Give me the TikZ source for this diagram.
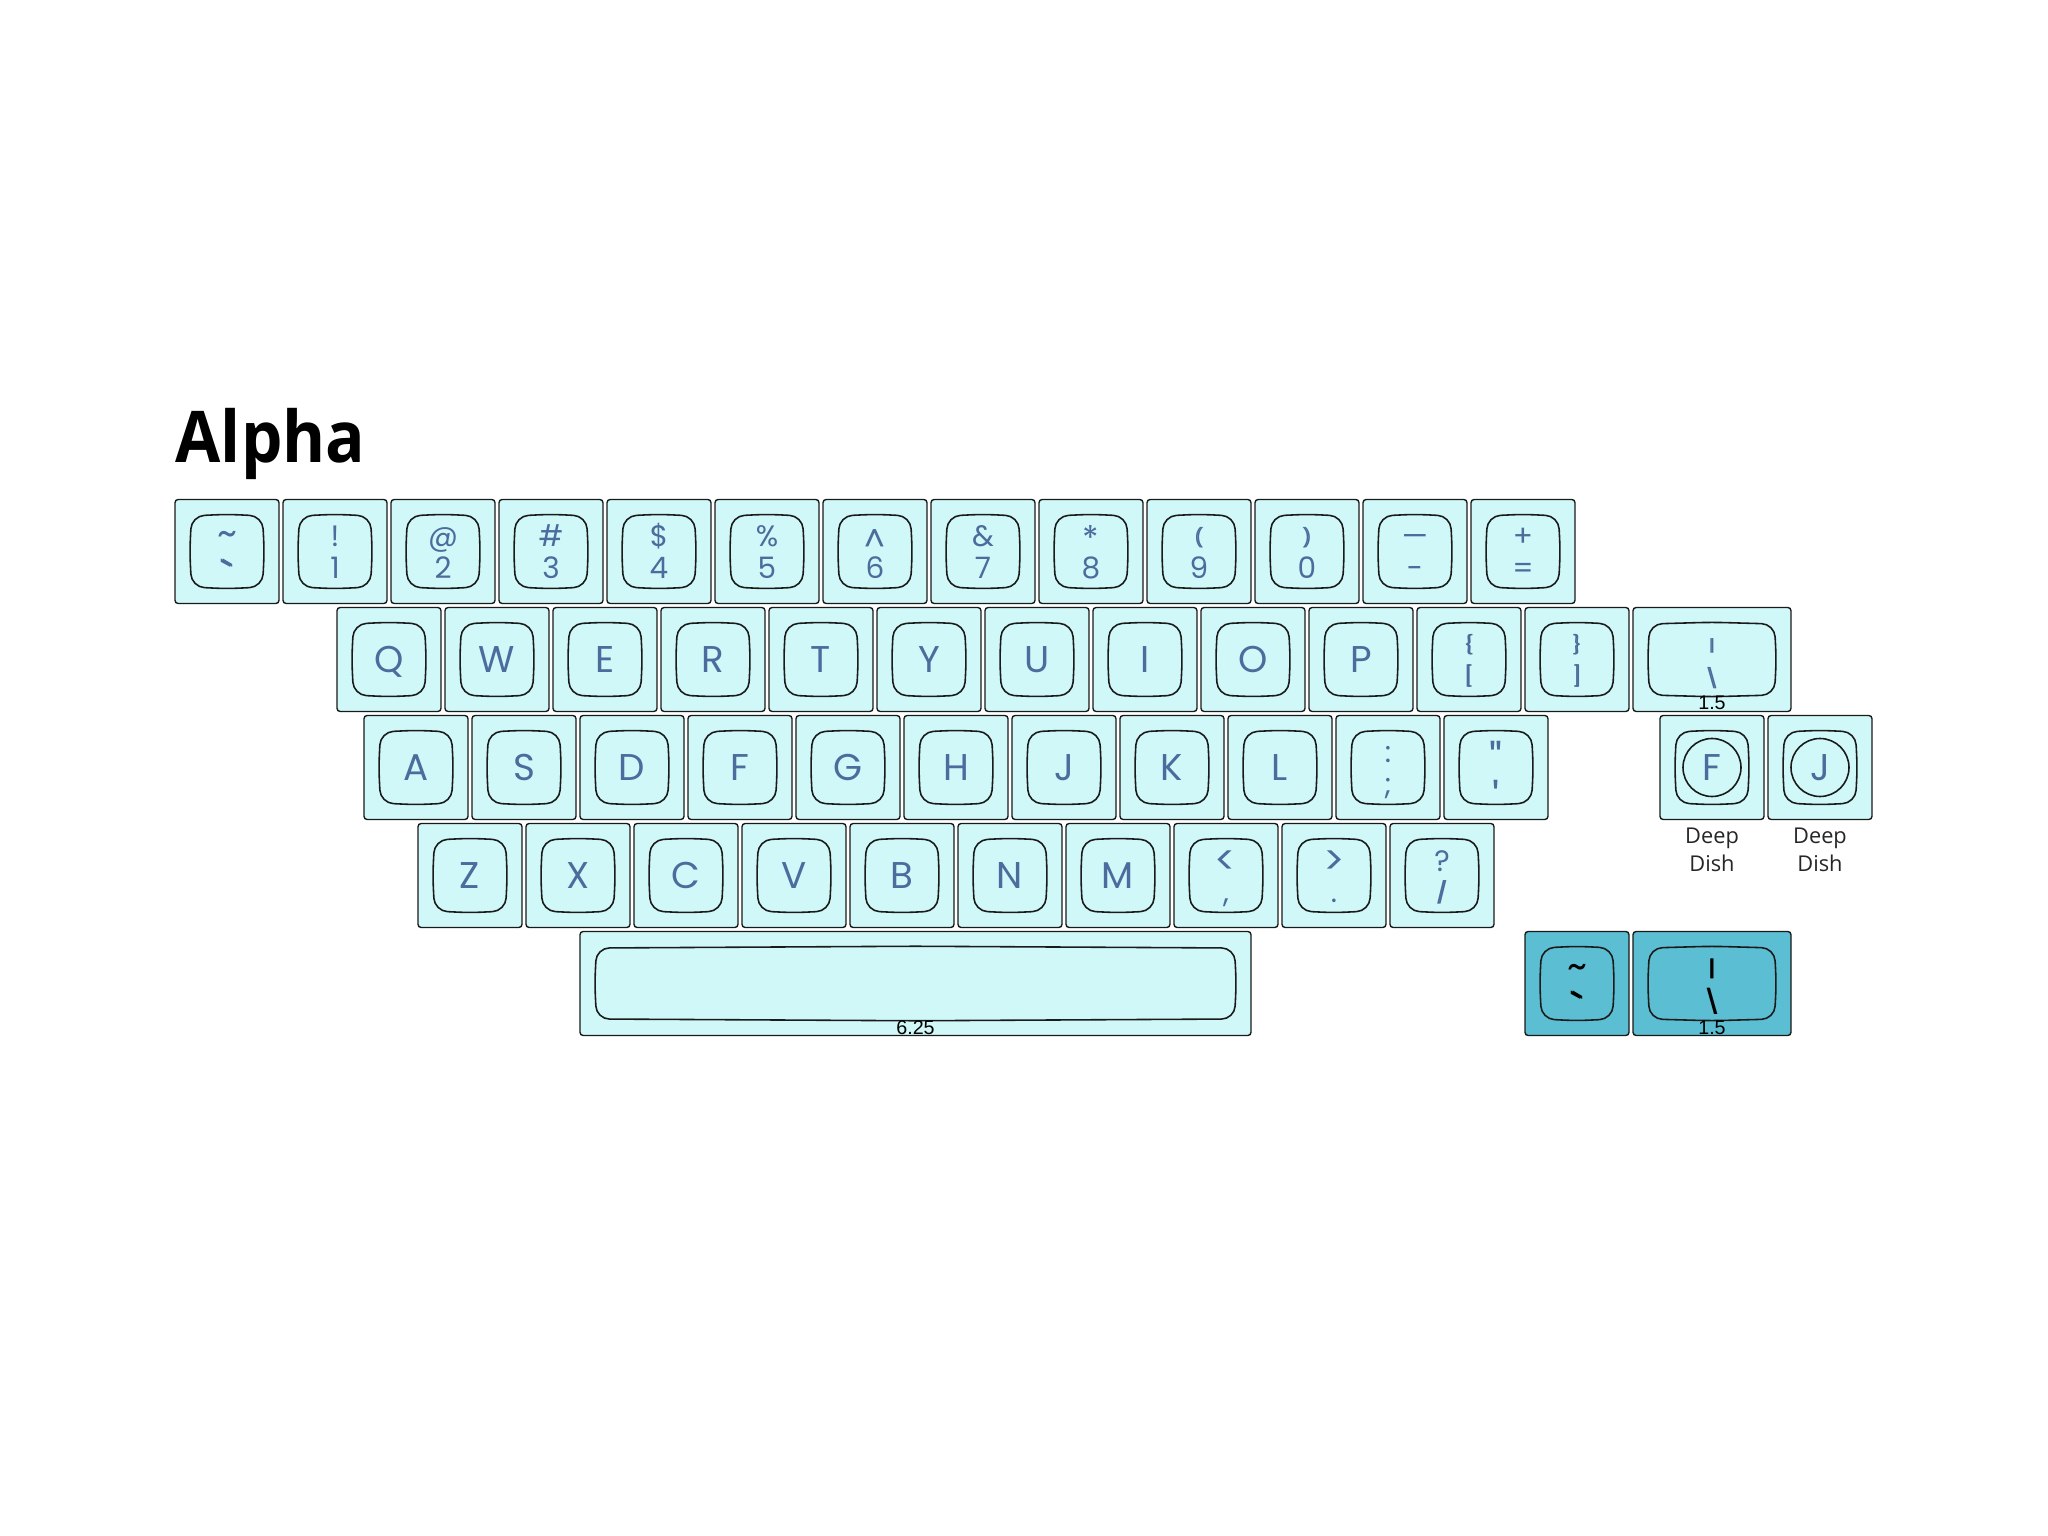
\documentclass[tikz,border=0pt]{standalone}
\usepackage{fontspec}
\setmainfont{Open Sans}
\newfontfamily\legfont{Poppins}
\newfontfamily\labfont{Liberation Sans}
\usetikzlibrary{calc}
\definecolor{keyfill}{RGB}{208,248,248}
\definecolor{darkfill}{RGB}{91,190,211}
\definecolor{legblue}{RGB}{75,108,156}
\definecolor{edge}{RGB}{26,26,26}
\tikzset{
 outerkey/.style={draw=edge, line width=0.4pt, rounded corners=0.9pt, inner sep=0pt, outer sep=0pt},
 lt/.style={fill=keyfill},
 dk/.style={fill=darkfill},
 dish/.style={draw=edge, line width=0.45pt},
 leg/.style={inner sep=0pt, text=legblue, font=\legfont\fontsize{10.6}{12}\selectfont},
 legs/.style={inner sep=0pt, text=legblue, font=\legfont\fontsize{8.4}{10}\selectfont},
 sizelab/.style={inner sep=0pt, text=black, font=\labfont\fontsize{5.6}{6}\selectfont},
 ddlab/.style={inner sep=0pt, text=black!85, font=\fontsize{6.2}{7}\selectfont},
 titlelab/.style={inner sep=0pt, text=black, font=\bfseries\fontsize{20.3}{24}\selectfont},
}
\newcommand\adj[3]{\raisebox{#2}{\scalebox{#1}{#3}}}
\newcommand\fb[1]{\makebox[0pt][l]{#1}\kern0.4pt#1}
\newcommand\kc[5]{%
 \pgfmathsetmacro\kx{1.75+(#2)*1.08}%
 \pgfmathsetmacro\ky{-4.995-(#3)*1.08}%
 \pgfmathsetmacro\kw{(#4)*1.08-0.04}%
 \node[outerkey,#5,minimum width=\kw cm,minimum height=1.04cm,anchor=north west] (#1) at (\kx,\ky) {};%
 \coordinate (#1-a) at ([shift={(0.165,-0.165)}]#1.north west);%
 \coordinate (#1-c) at ([shift={(-0.165,0.165)}]#1.south east);%
 \draw[dish, rounded corners=0.13cm] let \p1=(#1-a), \p2=(#1-c), \p3=(#1.center) in
   (\x1,\y1) -- (\x3,\y1+0.5pt) -- (\x2,\y1) -- (\x2+0.5pt,\y3) -- (\x2,\y2)
   -- (\x3,\y2-0.5pt) -- (\x1,\y2) -- (\x1-0.5pt,\y3) -- cycle;%
}
\newcommand\one[3][legblue]{\node[leg,text=#1,anchor=base] (#2-l) at ([yshift=-0.13cm]#2.center) {#3};}
\newcommand\two[4][legblue]{%
 \node[legs,text=#1,anchor=base] (#2-t) at ([yshift=0.045cm]#2.center) {#3};%
 \node[legs,text=#1,anchor=base] (#2-b) at ([yshift=-0.27cm]#2.center) {#4};}
\begin{document}
\begin{tikzpicture}
\useasboundingbox (0,0) rectangle (20.48,-15.36);
\node[titlelab,anchor=base west] (title) at (1.75,-4.627) {\scalebox{0.92}[1]{Alpha}};
% number row
\kc{k0}{0}{0}{1}{lt}\two{k0}{\scalebox{1.3}{\textasciitilde}}{\fb{\adj{1.5}{-0.5em}{\textasciigrave}}}
\kc{k1}{1}{0}{1}{lt}\two{k1}{!}{1}
\kc{k2}{2}{0}{1}{lt}\two{k2}{@}{2}
\kc{k3}{3}{0}{1}{lt}\two{k3}{\#}{3}
\kc{k4}{4}{0}{1}{lt}\two{k4}{\$}{4}
\kc{k5}{5}{0}{1}{lt}\two{k5}{\%}{5}
\kc{k6}{6}{0}{1}{lt}\two{k6}{\adj{1.12}{-0.18em}{\textasciicircum}}{6}
\kc{k7}{7}{0}{1}{lt}\two{k7}{\&}{7}
\kc{k8}{8}{0}{1}{lt}\two{k8}{\adj{1.15}{-0.12em}{*}}{8}
\kc{k9}{9}{0}{1}{lt}\two{k9}{\fb{\adj{0.62}{0.1em}{(}}}{9}
\kc{k10}{10}{0}{1}{lt}\two{k10}{\fb{\adj{0.62}{0.1em}{)}}}{0}
\kc{k11}{11}{0}{1}{lt}\two{k11}{—}{-}
\kc{k12}{12}{0}{1}{lt}\two{k12}{+}{=}
% top letter row
\foreach \l [count=\i from 0] in {Q,W,E,R,T,Y,U,I,O,P}{\kc{k\l}{1.5+\i}{1}{1}{lt}\one{k\l}{\l}}
\kc{klb}{11.5}{1}{1}{lt}\two{klb}{\fb{\adj{0.62}{0.12em}{\{}}}{\fb{\adj{0.68}{0.1em}{[}}}
\kc{krb}{12.5}{1}{1}{lt}\two{krb}{\fb{\adj{0.62}{0.12em}{\}}}}{\fb{\adj{0.68}{0.1em}{]}}}
\kc{kbs}{13.5}{1}{1.5}{lt}\two{kbs}{\fb{\adj{0.55}{0.12em}{\textbar}}}{\fb{\adj{0.65}{0.03em}{\textbackslash}}}
\node[sizelab,anchor=base] (kbs-s) at ([yshift=0.015cm]kbs.south) {1.5};
% home row
\foreach \l [count=\i from 0] in {A,S,D,F,G,H,J,K,L}{\kc{k\l}{1.75+\i}{2}{1}{lt}\one{k\l}{\l}}
\kc{ksc}{10.75}{2}{1}{lt}\two{ksc}{:}{;}
\kc{kqt}{11.75}{2}{1}{lt}\two{kqt}{\adj{1.5}{-0.45em}{\textquotedbl}}{\adj{1.5}{-0.7em}{\textquotesingle}}
\kc{kdF}{13.75}{2}{1}{lt}\draw[dish] (kdF.center) circle (0.29cm);\one{kdF}{F}
\kc{kdJ}{14.75}{2}{1}{lt}\draw[dish] (kdJ.center) circle (0.29cm);\one{kdJ}{J}
\node[ddlab,anchor=base] (ddF1) at ([yshift=-0.24cm]kdF.south) {Deep};
\node[ddlab,anchor=base] (ddF2) at ([yshift=-0.52cm]kdF.south) {Dish};
\node[ddlab,anchor=base] (ddJ1) at ([yshift=-0.24cm]kdJ.south) {Deep};
\node[ddlab,anchor=base] (ddJ2) at ([yshift=-0.52cm]kdJ.south) {Dish};
% bottom letter row
\foreach \l [count=\i from 0] in {Z,X,C,V,B,N,M}{\kc{k\l}{2.25+\i}{3}{1}{lt}\one{k\l}{\l}}
\kc{kcm}{9.25}{3}{1}{lt}\two{kcm}{\adj{1.35}{-0.12em}{<}}{,}
\kc{kpd}{10.25}{3}{1}{lt}\two{kpd}{\adj{1.35}{-0.12em}{>}}{.}
\kc{ksl}{11.25}{3}{1}{lt}\two{ksl}{?}{\fb{\adj{0.72}{0.08em}{/}}}
% space row
\kc{ksp}{3.75}{4}{6.25}{lt}
\node[sizelab,anchor=base] (ksp-s) at ([yshift=0.015cm]ksp.south) {6.25};
\kc{kdt}{12.5}{4}{1}{dk}\two[black]{kdt}{\scalebox{1.3}{\textasciitilde}}{\fb{\adj{1.5}{-0.5em}{\textasciigrave}}}
\kc{kdb}{13.5}{4}{1.5}{dk}\two[black]{kdb}{\fb{\adj{0.75}{0.07em}{\textbar}}}{\fb{\adj{0.8}{0em}{\textbackslash}}}
\node[sizelab,anchor=base] (kdb-s) at ([yshift=0.015cm]kdb.south) {1.5};
\end{tikzpicture}
\end{document}
